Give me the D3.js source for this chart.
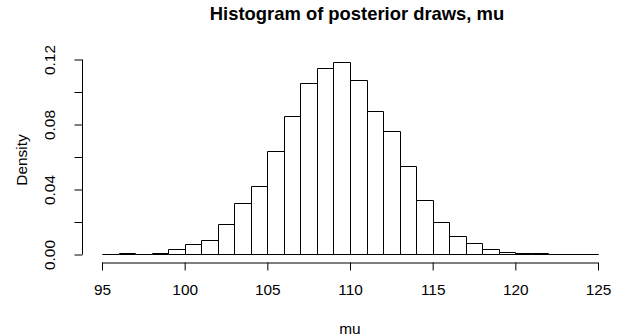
<!DOCTYPE html>
<html>
<head>
<meta charset="utf-8">
<script src="https://cdn.jsdelivr.net/npm/d3@7"></script>
<style>
  body { margin: 0; background: #fff; }
  svg { display: block; font-family: "Liberation Sans", Arial, sans-serif; }
</style>
</head>
<body>
<svg id="graphArea" width="629" height="336"></svg>
<script>
/* ビンの左端 ( 幅 1 ) */
const binStarts = d3.range(95, 125);

/* 各ビンの密度 ( 画像から読み取り ) */
const densities = [
  0, 0.0005, 0.0001, 0.0005, 0.0029, 0.0062, 0.0087, 0.0186, 0.0313, 0.0420,
  0.0632, 0.0852, 0.1053, 0.1146, 0.1183, 0.1068, 0.0883, 0.0756, 0.0540, 0.0331,
  0.0196, 0.0110, 0.0066, 0.0029, 0.0012, 0.0006, 0.0004, 0, 0, 0.0002
];

/* 目盛り */
const xTicks = [95, 100, 105, 110, 115, 120, 125];
const yTicks = [0, 0.02, 0.04, 0.06, 0.08, 0.10, 0.12];
const yTickLabels = ["0.00", "", "0.04", "", "0.08", "", "0.12"];

const titleText = "Histogram of posterior draws, mu";
const xLabel = "mu";
const yLabel = "Density";

const svg = d3.select("#graphArea");

// スケール
const x = d3.scaleLinear().domain([95, 125]).range([102, 598]);
const y = d3.scaleLinear().domain([0, 0.12]).range([254.5, 59.5]);

const ink = "#000";

// 棒を描画する
// 高さ 0 のビンも R と同じく線として見えるように path で描く
svg.append("g")
  .selectAll("path")
  .data(binStarts.map((b, i) => ({b: b, d: densities[i]})))
  .join("path")
  .attr("d", d => {
    let x0 = Math.round(x(d.b)) + 0.5;
    let x1 = Math.round(x(d.b + 1)) + 0.5;
    let y0 = y(0);
    let y1 = Math.floor(y(d.d)) + 0.5;
    return `M${x0},${y0}V${y1}H${x1}V${y0}Z`;
  })
  .style("fill", "#fff")
  .style("stroke", ink)
  .style("stroke-width", "1px");

// x 軸
const xAxis = d3.axisBottom(x)
  .tickValues(xTicks)
  .tickSize(8)
  .tickPadding(14)
  .tickFormat(d3.format("d"));

svg.append("g")
  .attr("class", "x-axis")
  .attr("transform", "translate(0,262.5)")
  .call(xAxis)
  .call(g => g.select(".domain").attr("d", `M${x(95)},0.5H${x(125)}`));

// y 軸
const yAxis = d3.axisLeft(y)
  .tickValues(yTicks)
  .tickSize(8)
  .tickFormat((d, i) => yTickLabels[i]);

svg.append("g")
  .attr("class", "y-axis")
  .attr("transform", "translate(82.5,0)")
  .call(yAxis)
  .call(g => g.select(".domain").attr("d", `M0,${y(0)}V${y(0.12)}`));

// 軸のスタイルをまとめて設定する
svg.selectAll(".x-axis, .y-axis")
  .style("font-size", "15.4px")
  .style("font-family", "Liberation Sans, Arial, sans-serif");
svg.selectAll(".domain, .tick line")
  .style("stroke", ink)
  .style("stroke-width", "1px");
svg.selectAll(".tick text").style("fill", ink);

// y 軸ラベルは回転させる
svg.selectAll(".y-axis .tick text")
  .attr("x", null)
  .attr("dy", null)
  .attr("text-anchor", "middle")
  .attr("transform", "translate(-22,0) rotate(-90) translate(0,-5.5)")
  .attr("dominant-baseline", "auto");

// タイトル
svg.append("text")
  .attr("x", 357)
  .attr("y", 20)
  .attr("text-anchor", "middle")
  .style("font-size", "18.4px")
  .style("font-weight", "bold")
  .text(titleText);

// x 軸ラベル
svg.append("text")
  .attr("x", x(110))
  .attr("y", 334)
  .attr("text-anchor", "middle")
  .style("font-size", "15.4px")
  .text(xLabel);

// y 軸ラベル
svg.append("text")
  .attr("transform", `translate(27,${(y(0) + y(0.12)) / 2 + 3}) rotate(-90)`)
  .attr("text-anchor", "middle")
  .style("font-size", "15.4px")
  .text(yLabel);
</script>
</body>
</html>
